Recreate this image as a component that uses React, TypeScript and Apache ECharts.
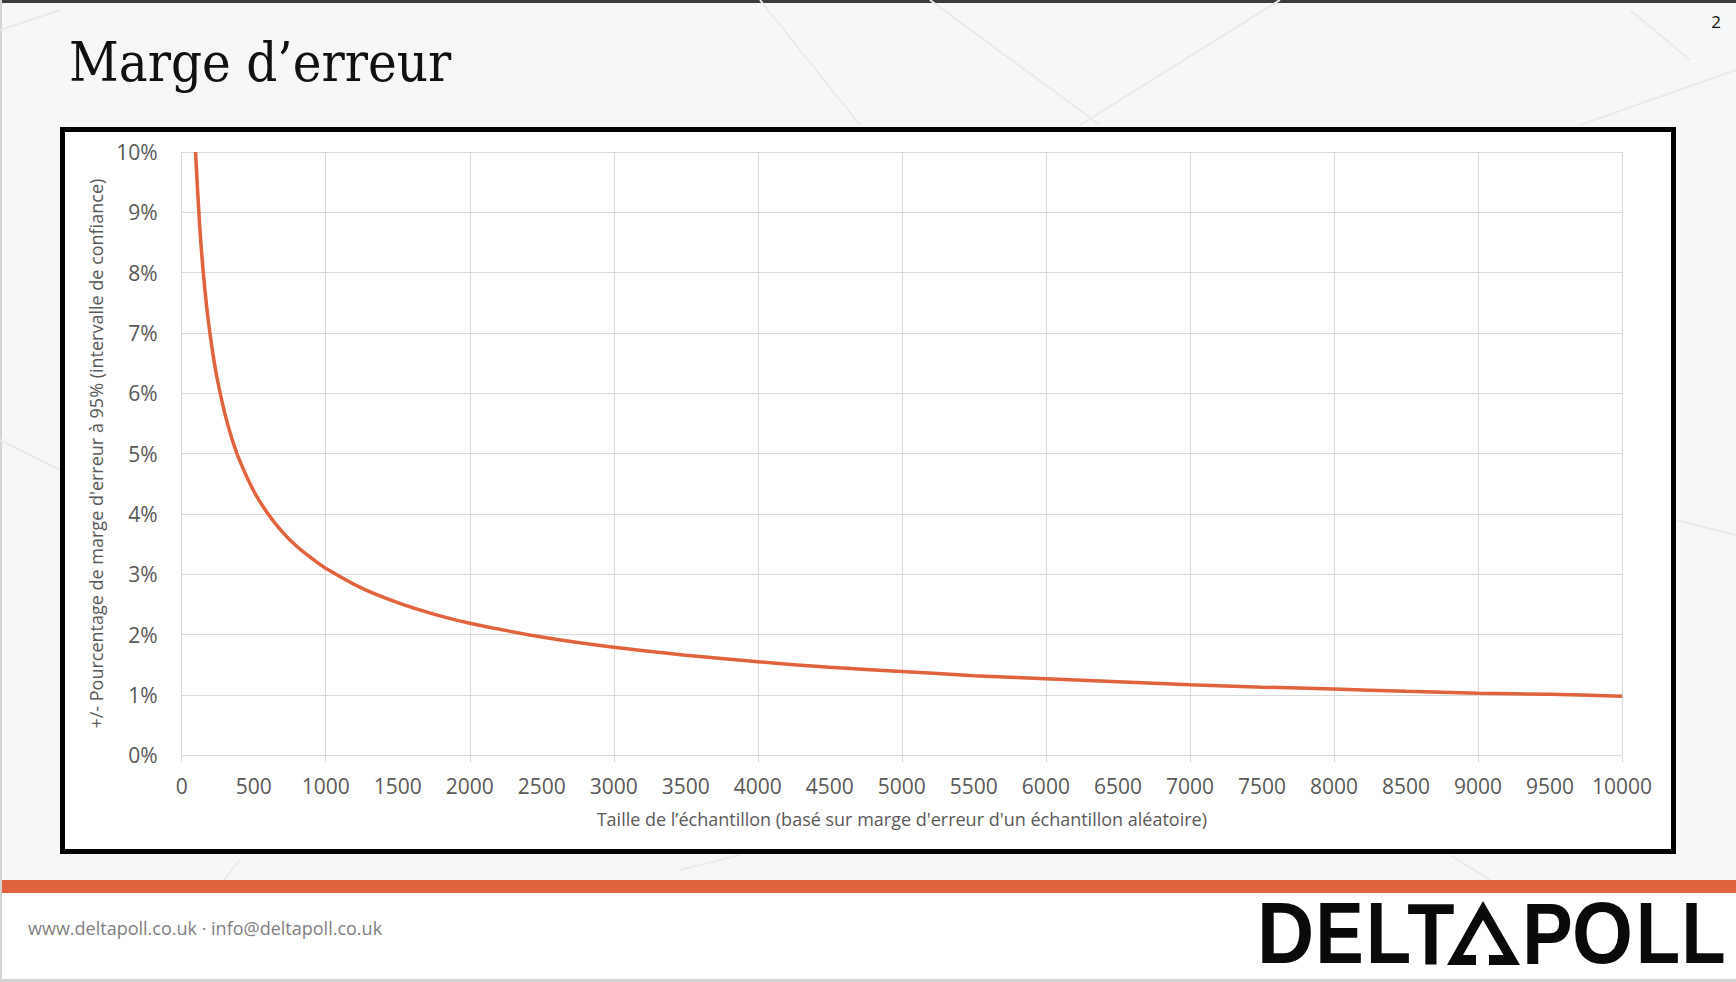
import React, { useEffect, useRef } from "react";
import * as echarts from "echarts";

// Sample size (n)
const sampleSizes = [96, 125, 150, 175, 200, 225, 250, 300, 350, 400, 500, 600, 700, 800, 900, 1000, 1250, 1500, 1750, 2000, 2500, 3000, 3500, 4000, 4500, 5000, 5500, 6000, 6500, 7000, 7500, 8000, 8500, 9000, 9500, 10000];
// +/- margin of error (%)
const margins = [10.0, 8.77, 8.0, 7.4, 6.93, 6.53, 6.2, 5.66, 5.24, 4.9, 4.38, 4.0, 3.7, 3.46, 3.27, 3.1, 2.77, 2.53, 2.34, 2.19, 1.96, 1.79, 1.66, 1.55, 1.46, 1.39, 1.32, 1.27, 1.22, 1.17, 1.13, 1.1, 1.06, 1.03, 1.01, 0.98];

const title = "Marge d\u2019erreur";
const xAxisTitle = "Taille de l\u2019\u00e9chantillon (bas\u00e9 sur marge d'erreur d'un \u00e9chantillon al\u00e9atoire)";
const yAxisTitle = "+/- Pourcentage de marge d'erreur \u00e0 95% (intervalle de confiance)";
const footerText = "www.deltapoll.co.uk \u00b7 info@deltapoll.co.uk";
const pageNumber = "2";
const logoLetters = ["D", "E", "L", "T", "P", "O", "L", "L"];

const LOGO_CX = [1285.5, 1339.5, 1388.5, 1431, 1547.5, 1602.5, 1658, 1703.5];
const LOGO_SX = [0.91, 0.83, 0.85, 0.89, 0.87, 0.9, 0.83, 0.83];

const ORANGE = "#E0633D";
const FONT = '"Open Sans", "Noto Sans", sans-serif';

export default function App() {
  const ref = useRef<HTMLDivElement>(null);
  useEffect(() => {
    if (!ref.current) return;
    const chart = echarts.init(ref.current, undefined, { renderer: "svg" });
    const data = sampleSizes.map((n, i) => [n, margins[i]]);
    const bgLine = (points: number[][]) => ({
      type: "polyline",
      silent: true,
      z: -9,
      shape: { points },
      style: { stroke: "#e9eaec", lineWidth: 2, fill: "none" },
    });
    const logoText = logoLetters.map((ch, i) => ({
      type: "text",
      x: LOGO_CX[i],
      y: 933.2,
      scaleX: LOGO_SX[i],
      z: 10,
      style: {
        text: ch,
        x: 0,
        y: 0,
        fill: "#0a0a0a",
        font: 'bold 87px "Liberation Sans", Arial, sans-serif',
        textAlign: "center",
        textVerticalAlign: "middle",
      },
    }));
    chart.setOption({
      animation: false,
      backgroundColor: "#f6f7f8",
      grid: { left: 181.7, right: 114, top: 152, bottom: 226.7, containLabel: false },
      xAxis: [
        {
          type: "value",
          min: 0,
          max: 10000,
          interval: 500,
          position: "bottom",
          axisLine: { show: false },
          axisTick: { show: false },
          splitLine: { show: false },
          axisLabel: {
            color: "#595959",
            fontSize: 21,
            fontFamily: FONT,
            margin: 20,
            formatter: (v: number) => String(v),
          },
          name: xAxisTitle,
          nameLocation: "middle",
          nameGap: 55,
          nameTextStyle: { color: "#595959", fontSize: 18, fontFamily: FONT },
        },
        {
          type: "value",
          min: 0,
          max: 10000,
          interval: 1000,
          position: "bottom",
          axisLine: { show: false },
          axisLabel: { show: false },
          axisTick: { show: true, length: 7, lineStyle: { color: "#d9d9d9", width: 1 } },
          splitLine: { show: true, lineStyle: { color: "#d9d9d9", width: 1 } },
        },
      ],
      yAxis: {
        type: "value",
        min: 0,
        max: 10,
        interval: 1,
        axisLine: { show: false },
        axisTick: { show: false },
        splitLine: { show: true, lineStyle: { color: "#d9d9d9", width: 1 } },
        axisLabel: {
          color: "#595959",
          fontSize: 21,
          fontFamily: FONT,
          margin: 24,
          formatter: "{value}%",
        },
        name: yAxisTitle,
        nameLocation: "middle",
        nameGap: 72,
        nameTextStyle: { color: "#595959", fontSize: 18, fontFamily: FONT },
      },
      series: [
        {
          type: "line",
          xAxisIndex: 0,
          data,
          showSymbol: false,
          smooth: 0.3,
          lineStyle: { color: ORANGE, width: 3.5 },
          z: 5,
        },
      ],
      graphic: [
        bgLine([[760, 0], [860, 125]]),
        bgLine([[930, 0], [1100, 125]]),
        bgLine([[1280, 0], [1080, 125]]),
        bgLine([[1580, 125], [1736, 70]]),
        bgLine([[1630, 10], [1690, 60]]),
        bgLine([[0, 30], [60, 10]]),
        bgLine([[0, 440], [60, 470]]),
        bgLine([[1676, 520], [1736, 535]]),
        bgLine([[160, 960], [240, 860]]),
        bgLine([[680, 870], [740, 855]]),
        bgLine([[1450, 855], [1490, 880]]),
        { type: "rect", z: -10, silent: true, shape: { x: 0, y: 0, width: 1736, height: 3 }, style: { fill: "#3c3c3c" } },
        { type: "rect", z: -10, silent: true, shape: { x: 0, y: 0, width: 2, height: 982 }, style: { fill: "#d4d4d4" } },
        { type: "rect", z: -10, silent: true, shape: { x: 0, y: 979, width: 1736, height: 3 }, style: { fill: "#d4d4d4" } },
        {
          type: "rect",
          z: -5,
          silent: true,
          shape: { x: 62.5, y: 129.5, width: 1611, height: 722 },
          style: { fill: "#ffffff", stroke: "#000000", lineWidth: 5 },
        },
        { type: "rect", z: -8, silent: true, shape: { x: 2, y: 893, width: 1734, height: 86 }, style: { fill: "#ffffff" } },
        { type: "rect", z: 1, silent: true, shape: { x: 2, y: 880, width: 1734, height: 13 }, style: { fill: ORANGE } },
        {
          type: "text",
          x: 69,
          y: 62,
          style: {
            text: title,
            fill: "#111111",
            font: '54px "DejaVu Serif Condensed", "DejaVu Serif", serif',
            textAlign: "left",
            textVerticalAlign: "middle",
          },
        },
        {
          type: "text",
          x: 1716,
          y: 21,
          style: {
            text: pageNumber,
            fill: "#111111",
            font: '17px "Open Sans", sans-serif',
            textAlign: "center",
            textVerticalAlign: "middle",
          },
        },
        {
          type: "text",
          x: 28,
          y: 928,
          style: {
            text: footerText,
            fill: "#7f7f7f",
            font: '18px "Open Sans", sans-serif',
            textAlign: "left",
            textVerticalAlign: "middle",
          },
        },
        ...logoText,
        {
          type: "polygon",
          z: 10,
          shape: {
            points: [
              [1483, 901], [1520, 965], [1489, 965], [1489, 955], [1503.5, 955],
              [1483, 920], [1463, 955], [1476, 955], [1476, 965], [1447, 965],
            ],
          },
          style: { fill: "#0a0a0a" },
        },
      ],
    });
    return () => chart.dispose();
  }, []);
  return (
    <div
      ref={ref}
      style={{ position: "fixed", left: 0, top: 0, width: 1736, height: 982 }}
    />
  );
}
